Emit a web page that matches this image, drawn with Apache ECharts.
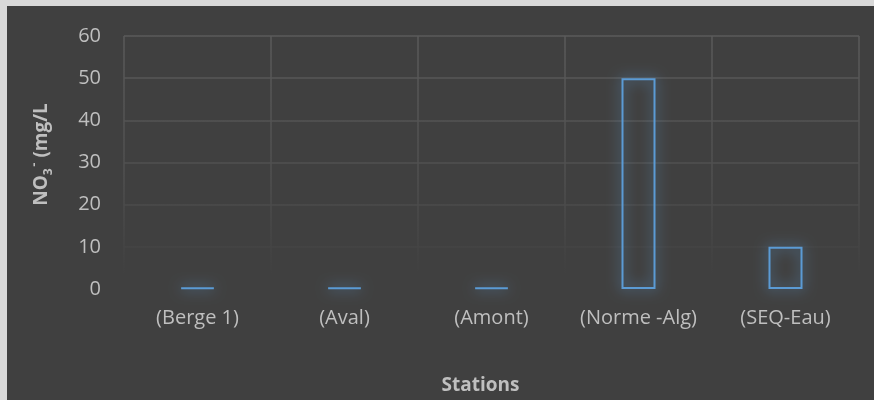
<!DOCTYPE html>
<html>
<head>
<meta charset="utf-8">
<script src="https://cdn.jsdelivr.net/npm/echarts@6/dist/echarts.min.js"></script>
<style>
  html, body { margin: 0; padding: 0; background: #d9d9d9; }
  #chart { width: 874px; height: 400px; }
</style>
</head>
<body>
<div id="chart"></div>
<script>
// Nitrate concentration per station (mg/L)
const stations = ['(Berge 1)', '(Aval)', '(Amont)', '(Norme -Alg)', '(SEQ-Eau)'];
const nitrate = [0.3, 0.3, 0.3, 50, 10];
const yTicks = { min: 0, max: 60, step: 10 };

const chart = echarts.init(document.getElementById('chart'));
const font = '"Open Sans", "Noto Sans", sans-serif';
const textColor = '#bfbfbf';

// gridlines fade out towards the bottom of the plot
const gridFade = new echarts.graphic.LinearGradient(0, 36, 0, 275, [
  { offset: 0, color: '#5a5a5a' },
  { offset: 0.6, color: '#4f4f4f' },
  { offset: 1, color: '#404040' }
], true);

chart.setOption({
  backgroundColor: '#d9d9d9',
  animation: false,
  graphic: [{
    type: 'rect',
    z: -100,
    shape: { x: 7, y: 6, width: 867, height: 394 },
    style: { fill: '#404040' }
  }],
  grid: { left: 124, right: 15, top: 36, bottom: 111, outerBoundsMode: 'none', containLabel: false },
  xAxis: {
    type: 'category',
    data: stations,
    axisLine: { show: false },
    axisTick: { show: false, interval: 0 },
    splitLine: { show: true, interval: 0, lineStyle: { color: gridFade, width: 1.5 } },
    axisLabel: { interval: 0, hideOverlap: false, color: textColor, fontFamily: font, fontSize: 20, margin: 19 },
    name: 'Stations',
    nameLocation: 'middle',
    nameGap: 87,
    nameTextStyle: { color: textColor, fontFamily: font, fontSize: 19, fontWeight: 'bold', padding: [0, 22, 0, 0] }
  },
  yAxis: {
    type: 'value',
    min: yTicks.min,
    max: yTicks.max,
    interval: yTicks.step,
    axisLine: { show: false },
    axisTick: { show: false },
    splitLine: { show: true, lineStyle: { color: gridFade, width: 1.5 } },
    axisLabel: { color: textColor, fontFamily: font, fontSize: 20, margin: 23 },
    name: '{b|NO}{s|3}{p|-}{b| (mg/L}',
    nameLocation: 'middle',
    nameRotate: 90,
    nameGap: 69,
    nameTextStyle: {
      color: textColor,
      padding: [0, 0, 0, 16],
      rich: {
        b: { color: textColor, fontFamily: font, fontSize: 19, fontWeight: 'bold', lineHeight: 26 },
        s: { color: textColor, fontFamily: font, fontSize: 12, fontWeight: 'bold', verticalAlign: 'bottom', lineHeight: 15 },
        p: { color: textColor, fontFamily: font, fontSize: 12, fontWeight: 'bold', verticalAlign: 'top', lineHeight: 15, padding: [0, 0, 0, 2] }
      }
    }
  },
  series: [{
    type: 'bar',
    data: nitrate,
    barWidth: 34,
    itemStyle: {
      color: 'rgba(64,64,64,0)',
      borderColor: '#5b9bd5',
      borderWidth: 2,
      shadowBlur: 13,
      shadowColor: 'rgba(91,155,213,1)'
    }
  }]
});
</script>
</body>
</html>
